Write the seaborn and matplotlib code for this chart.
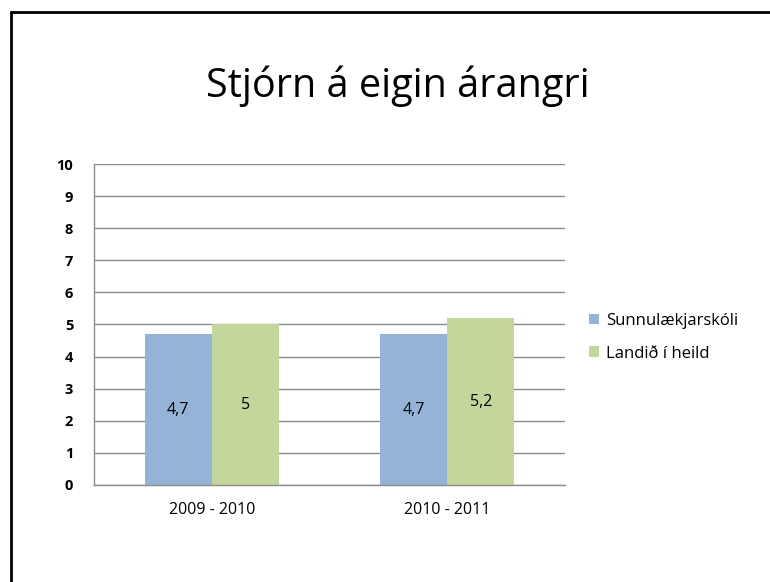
import numpy as np
import pandas as pd
import matplotlib
matplotlib.use("Agg")
import matplotlib.pyplot as plt
import seaborn as sns
from matplotlib.lines import Line2D

# data
years = ["2009 - 2010", "2010 - 2011"]
series = ["Sunnulækjarskóli", "Landið í heild"]
school_values = [4.7, 4.7]
country_values = [5.0, 5.2]
y_ticks = list(range(0, 11))

colors = ["#95B3D7", "#C3D69B"]

df = pd.DataFrame({
    "year": years * 2,
    "group": [series[0]] * len(years) + [series[1]] * len(years),
    "value": school_values + country_values,
})

sns.set_style("white")
plt.rcParams["font.family"] = ["Open Sans", "DejaVu Sans"]
plt.rcParams["text.color"] = "black"
plt.rcParams["xtick.labelcolor"] = "black"
plt.rcParams["ytick.labelcolor"] = "black"

fig = plt.figure(figsize=(7.7, 5.82), dpi=100)
ax = fig.add_axes([0.1221, 0.1667, 0.6117, 0.5515])

sns.barplot(data=df, x="year", y="value", hue="group", hue_order=series,
            palette=colors, width=0.57, gap=0, saturation=1, ax=ax,
            edgecolor="none", linewidth=0)

# value labels in the middle of each bar
for cont in ax.containers:
    labels = [f"{b.get_height():g}".replace(".", ",") for b in cont]
    ax.bar_label(cont, labels=labels, label_type="center", fontsize=11.5, color="black")

ax.set_ylim(0, 10)
ax.set_xlim(-0.5, 1.5)
ax.set_yticks(y_ticks)
ax.yaxis.grid(True, color="#8c8c8c", linewidth=1)
ax.set_axisbelow(True)
ax.set_xlabel("")
ax.set_ylabel("")

# category labels, boundary tick marks
ax.set_xticks([0, 1])
ax.set_xticklabels(years, fontsize=11.5)
ax.set_xticks([-0.5, 0.5, 1.5], minor=True)
ax.tick_params(axis="x", which="major", length=0, pad=12)
ax.tick_params(axis="x", which="minor", length=5, color="#8c8c8c", width=1, direction="out")
ax.tick_params(axis="y", length=5, color="#8c8c8c", width=1, direction="out",
               labelsize=10.5, pad=10)
for lab in ax.get_yticklabels():
    lab.set_fontweight("bold")

for side in ["top", "right"]:
    ax.spines[side].set_visible(False)
for side in ["left", "bottom"]:
    ax.spines[side].set_color("#8c8c8c")
    ax.spines[side].set_linewidth(1)

leg = ax.legend(loc="center left", bbox_to_anchor=(1.02, 0.46), frameon=False,
                fontsize=12, handlelength=0.6, handleheight=0.6, handletextpad=0.4,
                labelspacing=1.0)

fig.text(0.516, 0.852, "Stjórn á eigin árangri", ha="center", va="center",
         fontsize=28.5, color="black")

# frame lines along the top and left edge
fig.add_artist(Line2D([11 / 770, 1], [1 - 12 / 582, 1 - 12 / 582], color="black", linewidth=2))
fig.add_artist(Line2D([11 / 770, 11 / 770], [0, 1 - 12 / 582], color="black", linewidth=2))

fig.savefig("out.png", dpi=100)
